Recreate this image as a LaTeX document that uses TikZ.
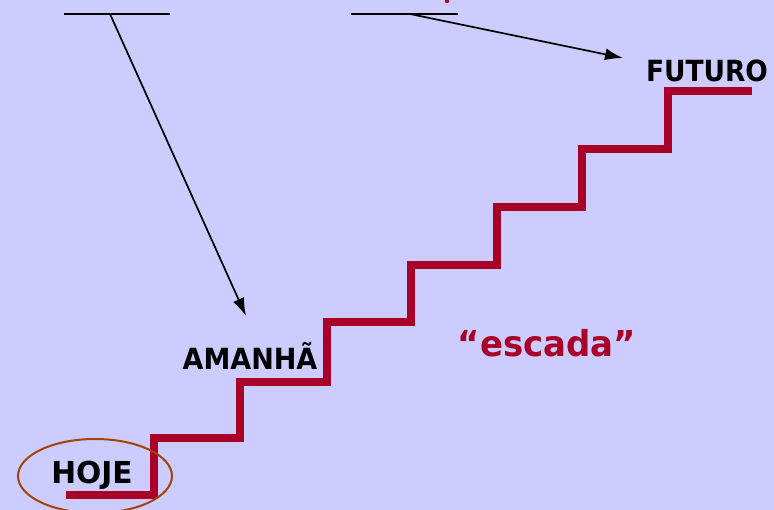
\documentclass[tikz,border=0pt]{standalone}
\usepackage{fontspec}
\setmainfont{DejaVu Sans}
\usetikzlibrary{arrows.meta}
\definecolor{bgblue}{RGB}{204,204,255}
\definecolor{stairred}{RGB}{168,0,40}
\definecolor{ringbrown}{RGB}{165,65,10}
\tikzset{
  steplabel/.style={font=\bfseries\fontsize{27}{29}\selectfont, text=black, inner sep=0pt, anchor=base},
  pointer/.style={draw=black, line width=1.7pt, -{Latex[length=18pt,width=12pt]}},
  barline/.style={draw=black, line width=2pt},
  stairline/.style={draw=stairred, line width=8pt, line join=miter}
}
\begin{document}
\begin{tikzpicture}[x=1pt,y=-1pt]
  \fill[bgblue] (0,0) rectangle (774,510);
  \useasboundingbox (0,0) rectangle (774,510);

  % blank lines at the top
  \coordinate (l1a) at (64,14);  \coordinate (l1b) at (170,14);
  \coordinate (l2a) at (351,14); \coordinate (l2b) at (458,14);
  \draw[barline] (l1a) -- (l1b);
  \draw[barline] (l2a) -- (l2b);
  \fill[stairred] (447,1) circle (2.2);

  % the staircase
  \draw[stairline] (66,495) -- (153.5,495) -- (153.5,438) -- (240,438) -- (240,382)
    -- (326.5,382) -- (326.5,322) -- (411,322) -- (411,265) -- (497,265)
    -- (497,207) -- (582,207) -- (582,149) -- (668,149) -- (668,91.5) -- (752,91.5);

  % labels
  \node[steplabel, xscale=1.1, yscale=1.12] (hoje) at (92,483) {HOJE};
  \node[steplabel, yscale=1.08] (amanha) at (250,370) {AMANHÃ};
  \node[steplabel, xscale=0.98, yscale=1.08] (futuro) at (707,82) {FUTURO};
  \node[inner sep=0pt, anchor=base, text=stairred, font=\bfseries\fontsize{34}{36}\selectfont, yscale=1.05]
    (escada) at (547,357) {“escada”};

  % ring round HOJE
  \draw[ringbrown, line width=2pt] (95,476) ellipse (77 and 37);

  % pointers from the blanks
  \coordinate (s1) at (110,14);  \coordinate (e1) at (246,316);
  \coordinate (s2) at (410,14);  \coordinate (e2) at (623,58);
  \draw[pointer] (s1) -- (e1);
  \draw[pointer] (s2) -- (e2);
\end{tikzpicture}
\end{document}
